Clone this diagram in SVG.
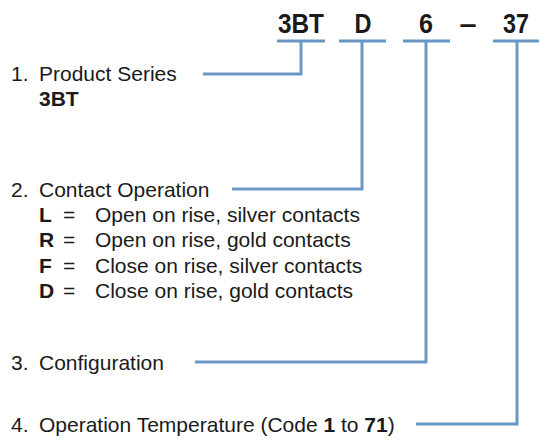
<svg xmlns="http://www.w3.org/2000/svg" width="539" height="443" viewBox="0 0 539 443">
<style>
text{font-family:"Liberation Sans",Arial,sans-serif;fill:#1a1a1a}
.t{font-size:21px}
.b{font-weight:bold}
.code{font-size:28px;font-weight:bold;text-anchor:middle}
.ln{fill:none;stroke:#6a98c4;stroke-width:3}
</style>
<rect width="539" height="443" fill="#fff"/>
<g id="connectors">
<path class="ln" d="M277 41H325M301 41V74H203"/>
<path class="ln" d="M339 41H386M362 41V189H232"/>
<path class="ln" d="M403 41H450M426 41V362H195"/>
<path class="ln" d="M493 41H539M517 41V424H416"/>
</g>
<g id="code">
<text class="code" x="301" y="33" textLength="46" lengthAdjust="spacingAndGlyphs">3BT</text>
<text class="code" x="363" y="33" textLength="17" lengthAdjust="spacingAndGlyphs">D</text>
<text class="code" x="426" y="33" textLength="14" lengthAdjust="spacingAndGlyphs">6</text>
<text class="code" x="468" y="33" textLength="17" lengthAdjust="spacingAndGlyphs">–</text>
<text class="code" x="516" y="33" textLength="26" lengthAdjust="spacingAndGlyphs">37</text>
</g>
<g id="n1">
<text class="t" x="11" y="81">1.</text>
<text class="t" x="39" y="81">Product Series</text>
<text class="t b" x="39" y="106">3BT</text>
</g>
<g id="n2">
<text class="t" x="11" y="197">2.</text>
<text class="t" x="39" y="197">Contact Operation</text>
<text class="t b" x="39" y="222">L</text><text class="t" x="63" y="222">=</text><text class="t" x="95" y="222">Open on rise, silver contacts</text>
<text class="t b" x="39" y="247">R</text><text class="t" x="63" y="247">=</text><text class="t" x="95" y="247">Open on rise, gold contacts</text>
<text class="t b" x="39" y="273">F</text><text class="t" x="63" y="273">=</text><text class="t" x="95" y="273">Close on rise, silver contacts</text>
<text class="t b" x="39" y="298">D</text><text class="t" x="63" y="298">=</text><text class="t" x="95" y="298">Close on rise, gold contacts</text>
</g>
<g id="n3">
<text class="t" x="11" y="370">3.</text>
<text class="t" x="39" y="370">Configuration</text>
</g>
<g id="n4">
<text class="t" x="11" y="432">4.</text>
<text class="t" x="39" y="432">Operation Temperature (Code <tspan class="b">1</tspan> to <tspan class="b">71</tspan>)</text>
</g>
</svg>
